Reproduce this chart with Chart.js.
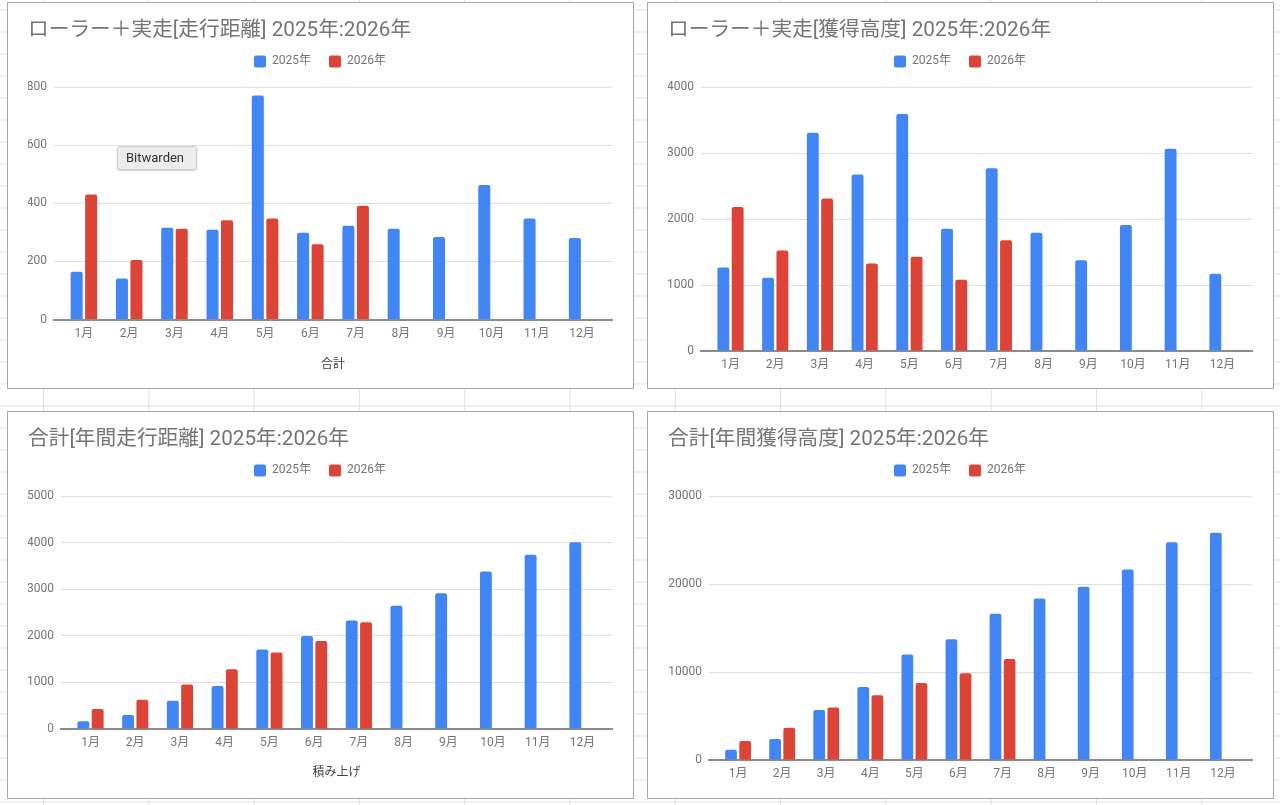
<!DOCTYPE html>
<html lang="ja">
<head>
<meta charset="utf-8">
<title>ローラー＋実走 2025年:2026年</title>
<script src="https://cdn.jsdelivr.net/npm/chart.js@4.4.1/dist/chart.umd.min.js"></script>
<style>
  html, body {
    margin: 0;
    padding: 0;
    width: 1280px;
    height: 805px;
    overflow: hidden;
    background-color: #fff;
    /* spreadsheet cells behind the charts */
    background-image:
      linear-gradient(to right, #e2e2e2 1px, transparent 1px),
      linear-gradient(to bottom, #e2e2e2 1px, transparent 1px);
    background-size: 105.3px 22px;
    background-position: 43px 9.5px;
    font-family: Roboto, "Noto Sans CJK JP", sans-serif;
  }
  .panel {
    position: absolute;
    box-sizing: border-box;
    border: 1px solid #a8a8a8;
    background: #fff;
  }
  .panel .inner {
    position: relative;
    width: 100%;
    height: 100%;
  }
  .bw-tip {
    position: absolute;
    left: 117px;
    top: 146px;
    width: 80px;
    height: 24px;
    box-sizing: border-box;
    padding-left: 8px;
    line-height: 22px;
    font-size: 13px;
    color: #333;
    background: #ececec;
    border: 1px solid #cfcfcf;
    border-radius: 3px;
    box-shadow: 0 1px 2px rgba(0, 0, 0, 0.2);
    z-index: 5;
  }
</style>
</head>
<body>

<div class="panel" style="left:7px; top:2px; width:627px; height:387px;"><div class="inner"><canvas id="chartDist"></canvas></div></div>
<div class="panel" style="left:647px; top:2px; width:627px; height:387px;"><div class="inner"><canvas id="chartElev"></canvas></div></div>
<div class="panel" style="left:7px; top:411px; width:627px; height:388px;"><div class="inner"><canvas id="chartCumDist"></canvas></div></div>
<div class="panel" style="left:647px; top:411px; width:627px; height:388px;"><div class="inner"><canvas id="chartCumElev"></canvas></div></div>

<div class="bw-tip">Bitwarden</div>

<script>
// ===== DATA =====
const months = ['1月','2月','3月','4月','5月','6月','7月','8月','9月','10月','11月','12月'];
const seriesLabels = ['2025年', '2026年'];

// 走行距離 (月別)
const dist2025 = [165, 141, 316, 309, 772, 299, 323, 313, 284, 464, 348, 281];
const dist2026 = [431, 205, 313, 342, 348, 259, 392];
const distTicks = [0, 200, 400, 600, 800];

// 獲得高度 (月別)
const elev2025 = [1268, 1111, 3313, 2677, 3596, 1854, 2773, 1793, 1379, 1914, 3071, 1172];
const elev2026 = [2187, 1525, 2313, 1328, 1429, 1081, 1682];
const elevTicks = [0, 1000, 2000, 3000, 4000];

// 年間走行距離 (積み上げ)
const cumDist2025 = [165, 301, 610, 925, 1707, 2001, 2331, 2647, 2920, 3386, 3745, 4017];
const cumDist2026 = [430, 631, 954, 1284, 1643, 1894, 2296];
const cumDistTicks = [0, 1000, 2000, 3000, 4000, 5000];

// 年間獲得高度 (積み上げ)
const cumElev2025 = [1177, 2392, 5696, 8316, 12000, 13747, 16633, 18380, 19709, 21684, 24797, 25861];
const cumElev2026 = [2165, 3684, 5962, 7367, 8772, 9873, 11506];
const cumElevTicks = [0, 10000, 20000, 30000];

// ===== STYLE =====
const BLUE = '#4285f4';
const RED = '#db4437';
const TEXT_GRAY = '#757575';
const PAD_L = 20;
const PAD_R = 21;
const LEGEND_H = 50;

Chart.defaults.font.family = "Roboto, 'Noto Sans CJK JP', sans-serif";
Chart.defaults.animation = false;

// 凡例の高さを固定 (グラフ領域の上端を合わせる)
const legendHeight = {
    id: 'legendHeight',
    beforeInit(chart) {
        const fit = chart.legend.fit;
        chart.legend.fit = function () {
            fit.call(this);
            this.height = LEGEND_H;
        };
    }
};

const toPoints = (vals) => vals.map((v, i) => ({ x: i, y: v }));

function makeChart(id, title, a, b, yTicks, geo) {
    const ctx = document.getElementById(id).getContext('2d');
    return new Chart(ctx, {
        type: 'bar',
        data: {
            datasets: [
                { label: seriesLabels[0], data: toPoints(a), backgroundColor: BLUE },
                { label: seriesLabels[1], data: toPoints(b), backgroundColor: RED }
            ]
        },
        options: {
            responsive: true,
            maintainAspectRatio: false,
            categoryPercentage: 0.64,
            barPercentage: 0.83,
            borderRadius: 2,
            layout: { padding: { left: PAD_L, right: PAD_R, top: 0, bottom: 0 } },
            plugins: {
                title: {
                    display: true,
                    text: title,
                    align: 'start',
                    color: TEXT_GRAY,
                    font: { size: 20.7, weight: 'normal', lineHeight: 0.6 },
                    padding: { top: 22, bottom: 0 }
                },
                legend: {
                    position: 'top',
                    labels: {
                        boxWidth: 12,
                        boxHeight: 12,
                        padding: 18,
                        useBorderRadius: true,
                        borderRadius: 2,
                        color: TEXT_GRAY,
                        font: { size: 12 }
                    }
                },
                tooltip: { enabled: false }
            },
            scales: {
                x: {
                    type: 'linear',
                    offset: false,
                    bounds: 'data',
                    min: -0.66,
                    max: months.length - 0.34,
                    afterBuildTicks: (s) => { s.ticks = months.map((_, i) => ({ value: i })); },
                    afterFit: (s) => { s.height = geo.h - geo.bottom; },
                    grid: { display: false, drawTicks: false },
                    border: { display: true, color: '#8c8c8c', width: 2 },
                    ticks: {
                        autoSkip: false,
                        maxRotation: 0,
                        padding: 7,
                        color: TEXT_GRAY,
                        font: { size: 12 },
                        callback: (v) => months[v]
                    },
                    title: {
                        display: !!geo.xTitle,
                        text: geo.xTitle || '',
                        color: '#444',
                        font: { size: 12 },
                        padding: { top: 0, bottom: geo.xTitlePad || 0 }
                    }
                },
                y: {
                    min: yTicks[0],
                    max: yTicks[yTicks.length - 1],
                    afterBuildTicks: (s) => { s.ticks = yTicks.map((v) => ({ value: v })); },
                    afterFit: (s) => { s.width = geo.left - PAD_L; },
                    grid: {
                        drawTicks: false,
                        color: (c) => (c.tick && c.tick.value === 0 ? 'rgba(0,0,0,0)' : '#e0e0e0')
                    },
                    border: { display: false },
                    ticks: {
                        padding: 7,
                        color: TEXT_GRAY,
                        font: { size: 12 },
                        callback: (v) => String(v)
                    }
                }
            }
        },
        plugins: [legendHeight]
    });
}

makeChart('chartDist', 'ローラー＋実走[走行距離] 2025年:2026年', dist2025, dist2026, distTicks,
    { left: 46, bottom: 316.5, h: 385, xTitle: '合計', xTitlePad: 16 });
makeChart('chartElev', 'ローラー＋実走[獲得高度] 2025年:2026年', elev2025, elev2026, elevTicks,
    { left: 53, bottom: 348, h: 385 });
makeChart('chartCumDist', '合計[年間走行距離] 2025年:2026年', cumDist2025, cumDist2026, cumDistTicks,
    { left: 53, bottom: 317, h: 386, xTitle: '積み上げ', xTitlePad: 17.5 });
makeChart('chartCumElev', '合計[年間獲得高度] 2025年:2026年', cumElev2025, cumElev2026, cumElevTicks,
    { left: 61, bottom: 348, h: 386 });
</script>
</body>
</html>
